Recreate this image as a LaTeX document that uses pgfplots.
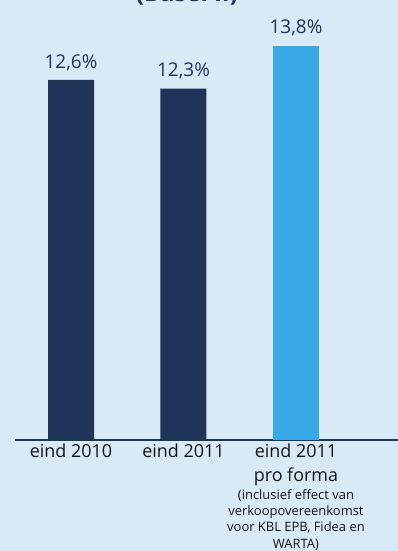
\documentclass[border=0pt]{standalone}
\usepackage{pgfplots}
\pgfplotsset{compat=1.18}
\usepackage{fontspec}
\setmainfont{Open Sans}
\definecolor{bg}{RGB}{217,234,247}
\definecolor{navy}{RGB}{32,51,88}
\definecolor{sky}{RGB}{56,168,230}
\definecolor{tk}{RGB}{20,20,20}
\newcommand\sm{\fontsize{13}{16.5}\selectfont}
\begin{document}
\begin{tikzpicture}
\fill[bg] (0,0) rectangle (398bp,551bp);
\node[anchor=south, font=\fontsize{24}{28}\selectfont\bfseries, text=navy, inner sep=0pt] at (187bp,546bp) {(Basel II)};
\begin{axis}[
  at={(15bp,111bp)}, anchor=south west,
  width=383bp, height=400bp, scale only axis,
  xmin=-0.498, xmax=2.907, ymin=0, ymax=14,
  axis x line=bottom, axis y line=none,
  axis line style={navy, line width=1.4bp, -},
  clip=false,
  /pgf/number format/assume math mode=true,
  xtick={0,1,2},
  xticklabels={eind 2010, eind 2011, {eind 2011\\pro forma\\[-6.5bp]\sm (inclusief effect van\\[-7.5bp]\sm verkoopovereenkomst\\[-7.5bp]\sm voor KBL EPB, Fidea en\\[-7.5bp]\sm WARTA)}},
  xticklabel style={align=center, anchor=north, font=\fontsize{18}{24}\selectfont, text=tk, inner sep=1bp, yshift=-3bp},
  major tick length=0pt,
  ytick=\empty,
  nodes near coords={\pgfmathprintnumber[use comma, fixed, precision=1, fixed zerofill, assume math mode=true]{\pgfplotspointmeta}\%},
  every node near coord/.append style={font=\fontsize{19}{22}\selectfont, text=navy, anchor=south, yshift=6bp},
  point meta=y,
]
\addplot[ybar, bar width=46bp, fill=navy, draw=none] coordinates {(0,12.6) (1,12.3)};
\addplot[ybar, bar width=46bp, fill=sky, draw=none] coordinates {(2,13.8)};
\end{axis}
\pgfresetboundingbox
\useasboundingbox (0,0) rectangle (398bp,551bp);
\end{tikzpicture}
\end{document}
